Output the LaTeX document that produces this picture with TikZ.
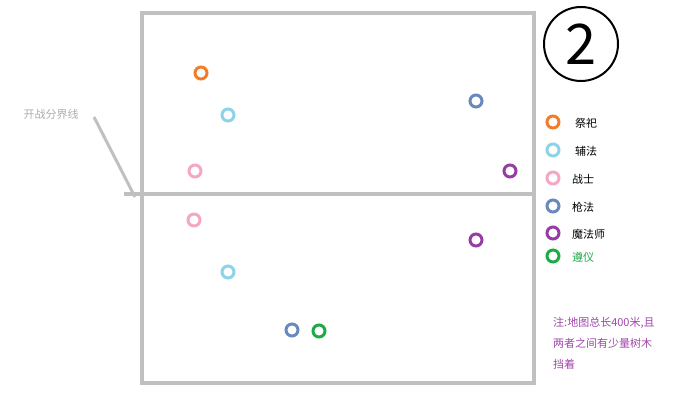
\documentclass[tikz,border=0pt]{standalone}
\usepackage{fontspec}
\newfontfamily\cjk{Noto Sans CJK SC}
\usetikzlibrary{positioning}
\definecolor{jisi}{RGB}{242,125,40}
\definecolor{fufa}{RGB}{140,210,232}
\definecolor{zhanshi}{RGB}{244,166,196}
\definecolor{qiangfa}{RGB}{104,136,190}
\definecolor{mofashi}{RGB}{150,60,165}
\definecolor{zunyi}{RGB}{30,170,70}
\definecolor{border}{RGB}{192,192,192}
\definecolor{notecol}{RGB}{160,70,170}
\tikzset{x=1pt, y=-1pt,
every node/.style={font=\cjk\fontsize{11}{12}\selectfont}, % Chinese text everywhere
unit/.style={ % Sets the properties for each ring
circle,
draw=#1,
line width=3pt,
minimum size=12pt,
inner sep=0pt},
legend/.style={anchor=west,inner sep=0pt},
field/.style={draw=border,line width=3.5pt}}
\begin{document}
\begin{tikzpicture}
\useasboundingbox (0,0) rectangle (700,403);
\draw[field] (142,13) rectangle (534,383);
\coordinate (lineL) at (124,194);
\coordinate (lineR) at (534,194);
\draw[field] (lineL) -- (lineR);
\node[text=border!90!black,anchor=west] (divlabel) at (20,114) {开战分界线};
\coordinate (pointer) at (94,117);
\coordinate (tip) at (135,197);
\draw[border,line width=3pt] (pointer) -- (tip);
% upper half
\node[unit=jisi] (u1) at (201,73) {};
\node[unit=fufa] (u2) at (228,115) {};
\node[unit=zhanshi] (u3) at (195,171) {};
\node[unit=qiangfa] (u4) at (476,101) {};
\node[unit=mofashi] (u5) at (510,171) {};
% lower half
\node[unit=zhanshi] (d1) at (194,220) {};
\node[unit=mofashi] (d2) at (476,240) {};
\node[unit=fufa] (d3) at (228,272) {};
\node[unit=qiangfa] (d4) at (292,330) {};
\node[unit=zunyi] (d5) at (319,331) {};
% legend
\node[unit=jisi] (l1) at (553,122) {};
\node[unit=fufa] (l2) at (553,150) {};
\node[unit=zhanshi] (l3) at (553,178) {};
\node[unit=qiangfa] (l4) at (553,206) {};
\node[unit=mofashi] (l5) at (553,233) {};
\node[unit=zunyi] (l6) at (553,256) {};
\node[legend] (t1) at (575,123) {祭祀};
\node[legend] (t2) at (575,151) {辅法};
\node[legend] (t3) at (572,179) {战士};
\node[legend] (t4) at (572,207) {枪法};
\node[legend] (t5) at (572,234) {魔法师};
\node[legend,text=zunyi] (t6) at (572,257) {遵仪};
% note
\node[text=notecol,anchor=north west,align=left,inner sep=0pt,
font=\cjk\fontsize{11}{21}\selectfont] (note) at (553,317) {注:地图总长400米,且\\两者之间有少量树木\\挡着};
% number
\node[circle,draw,line width=2pt,minimum size=74pt,inner sep=0pt,
font=\cjk\fontsize{56}{56}\selectfont] (num) at (581,44) {2};
\end{tikzpicture}
\end{document}
